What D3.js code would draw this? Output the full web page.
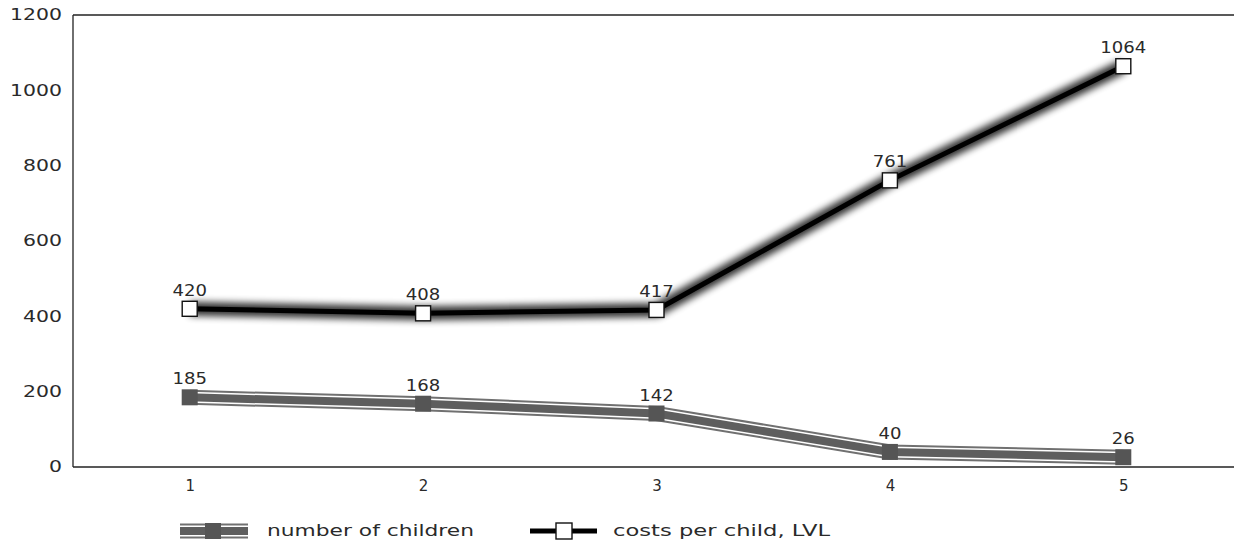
<!DOCTYPE html>
<html>
<head>
<meta charset="utf-8">
<script src="https://cdn.jsdelivr.net/npm/d3@7"></script>
<style>
  html, body { margin: 0; padding: 0; background: #fff; }
  svg text { font-family: "DejaVu Sans", sans-serif; fill: #2a2a2a; }
</style>
</head>
<body>
<svg id="chart" width="1234" height="544"></svg>
<script>
// Age groups (x categories) and the two series
const categories = ["1", "2", "3", "4", "5"];
const numberOfChildren = [185, 168, 142, 40, 26];
const costsPerChild = [420, 408, 417, 761, 1064];
const yTicks = [0, 200, 400, 600, 800, 1000, 1200];
const seriesNames = ["number of children", "costs per child, LVL"];

const svg = d3.select("#chart");
const margin = { left: 73, top: 15, bottom: 467 };
const plotRight = 1240;

const x = d3.scalePoint().domain(categories).range([margin.left, plotRight]).padding(0.5);
const y = d3.scaleLinear().domain([0, 1200]).range([margin.bottom, margin.top]);

// wide, squarish lettering: stretch glyphs horizontally
function widen(sel, perChar) {
  sel.attr("lengthAdjust", "spacingAndGlyphs")
     .attr("textLength", function () { return this.textContent.length * perChar; });
}

// soft halo filter for the cost line
const defs = svg.append("defs");
const f = defs.append("filter").attr("id", "halo")
  .attr("x", "-10%").attr("y", "-50%").attr("width", "120%").attr("height", "200%");
f.append("feGaussianBlur").attr("stdDeviation", 3.8);

// Frame: left, top and bottom lines
const frame = svg.append("g").attr("stroke", "#222").attr("stroke-width", 1.3).attr("fill", "none");
frame.append("line").attr("x1", margin.left).attr("x2", margin.left).attr("y1", margin.top).attr("y2", margin.bottom);
frame.append("line").attr("x1", margin.left).attr("x2", 1234).attr("y1", margin.top).attr("y2", margin.top);
frame.append("line").attr("x1", margin.left).attr("x2", 1234).attr("y1", margin.bottom).attr("y2", margin.bottom);

// Y axis labels
const yAxis = d3.axisLeft(y).tickValues(yTicks).tickSize(0).tickPadding(11).tickFormat(d3.format("d"));
const gy = svg.append("g").attr("transform", `translate(${margin.left},0)`).call(yAxis);
gy.select(".domain").remove();
gy.selectAll("text").style("font-size", "15px").attr("fill", "#2a2a2a").call(widen, 13);

// X axis labels
const xAxis = d3.axisBottom(x).tickSize(0).tickPadding(13);
const gx = svg.append("g").attr("transform", `translate(0,${margin.bottom})`).call(xAxis);
gx.select(".domain").remove();
gx.selectAll("text").style("font-size", "15px").attr("fill", "#2a2a2a");

const line = d3.line().x((d, i) => x(categories[i])).y(d => y(d));

// Number of children: grey band with two thin white inner stripes
function drawGreyBand(g, path) {
  g.append("path").attr("d", path).attr("fill", "none").attr("stroke", "#707070").attr("stroke-width", 15);
  g.append("path").attr("d", path).attr("fill", "none").attr("stroke", "#fff").attr("stroke-width", 11);
  g.append("path").attr("d", path).attr("fill", "none").attr("stroke", "#5e5e5e").attr("stroke-width", 8);
}
const gChildren = svg.append("g");
drawGreyBand(gChildren, line(numberOfChildren));
gChildren.selectAll("rect").data(numberOfChildren).join("rect")
  .attr("x", (d, i) => x(categories[i]) - 8).attr("y", d => y(d) - 8)
  .attr("width", 16).attr("height", 16).attr("fill", "#555");

// Costs per child: black line with soft halo
function drawBlackLine(g, path) {
  g.append("path").attr("d", path).attr("fill", "none").attr("stroke", "#000")
    .attr("stroke-width", 14).attr("filter", "url(#halo)").attr("opacity", 0.8);
  g.append("path").attr("d", path).attr("fill", "none").attr("stroke", "#000").attr("stroke-width", 5);
}
const gCosts = svg.append("g");
drawBlackLine(gCosts, line(costsPerChild));
gCosts.selectAll("rect").data(costsPerChild).join("rect")
  .attr("x", (d, i) => x(categories[i]) - 7.5).attr("y", d => y(d) - 7.5)
  .attr("width", 15).attr("height", 15).attr("fill", "#fff").attr("stroke", "#111").attr("stroke-width", 1.4);

// Value labels
function valueLabels(data) {
  svg.append("g").selectAll("text").data(data).join("text")
    .attr("x", (d, i) => x(categories[i])).attr("y", d => y(d) - 13)
    .attr("text-anchor", "middle").style("font-size", "15px")
    .text(d => d).call(widen, 11.5);
}
valueLabels(numberOfChildren);
valueLabels(costsPerChild);

// Legend
const legY = 531;
const leg1 = svg.append("g");
drawGreyBand(leg1, d3.line()([[180, legY], [248, legY]]));
leg1.append("rect").attr("x", 205).attr("y", legY - 8).attr("width", 16).attr("height", 16).attr("fill", "#555");
leg1.append("text").attr("x", 267).attr("y", legY + 5).style("font-size", "15px")
  .attr("textLength", 207).attr("lengthAdjust", "spacingAndGlyphs").text(seriesNames[0]);

const leg2 = svg.append("g");
drawBlackLine(leg2, d3.line()([[530, legY], [597, legY]]));
leg2.append("rect").attr("x", 556).attr("y", legY - 8).attr("width", 16).attr("height", 16)
  .attr("fill", "#fff").attr("stroke", "#111").attr("stroke-width", 1.4);
leg2.append("text").attr("x", 613).attr("y", legY + 5).style("font-size", "15px")
  .attr("textLength", 217).attr("lengthAdjust", "spacingAndGlyphs").text(seriesNames[1]);
</script>
</body>
</html>
